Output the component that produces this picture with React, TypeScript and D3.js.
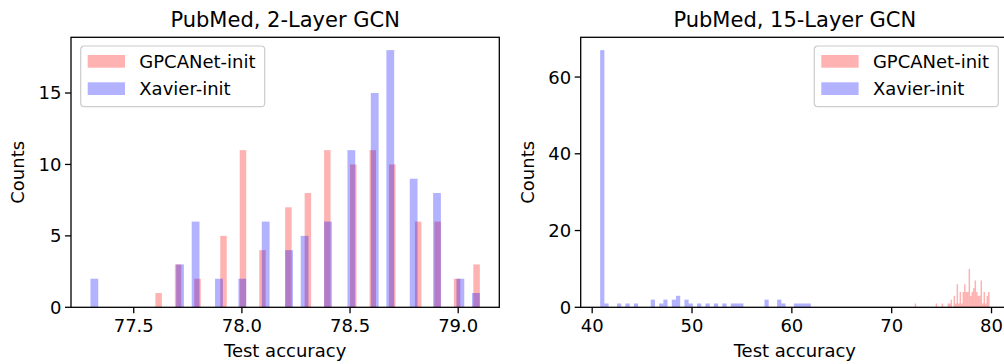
import * as d3 from "d3";

// ── Data (accuracy values and run counts) ─────────────────────────────────────
const leftAcc = [77.3, 77.6, 77.7, 77.8, 77.9, 78.0, 78.1, 78.2, 78.3, 78.4, 78.5, 78.6, 78.7, 78.8, 78.9, 79.0, 79.1];
const leftGpca = [0, 1, 3, 2, 5, 11, 4, 7, 8, 11, 10, 11, 10, 6, 6, 2, 3];
const leftXavier = [2, 0, 3, 6, 2, 2, 6, 4, 5, 6, 11, 15, 18, 9, 8, 2, 1];

const rightGpcaAcc = [72.3, 74.4, 75.0, 75.6, 75.8, 75.9, 76.2, 76.4, 76.5, 76.7, 76.8, 77.0, 77.1, 77.3, 77.4, 77.6, 77.7, 77.9, 78.0, 78.2, 78.3, 78.5, 78.6, 78.8, 78.9, 79.1, 79.2, 79.4, 79.5, 79.8];
const rightGpca = [1, 1, 1, 1, 1, 2, 3, 1, 6, 1, 4, 1, 4, 6, 4, 4, 10, 3, 4, 5, 7, 4, 3, 3, 7, 1, 4, 1, 3, 4];
const rightXavierAcc = [40.8, 41.4, 42.7, 43.5, 44.4, 46.1, 46.9, 47.3, 48.2, 48.6, 49.5, 49.9, 50.7, 51.6, 52.4, 53.3, 54.1, 54.5, 54.9, 57.5, 58.7, 59.2, 60.4, 60.9, 61.3, 61.9];
const rightXavier = [67, 1, 1, 1, 1, 2, 1, 2, 2, 3, 2, 1, 1, 1, 1, 1, 1, 1, 1, 2, 2, 1, 1, 1, 1, 1];

const leftXTicks = [77.5, 78.0, 78.5, 79.0];
const leftYTicks = [0, 5, 10, 15];
const rightXTicks = [40, 50, 60, 70, 80];
const rightYTicks = [0, 20, 40, 60];

const seriesNames = ["GPCANet-init", "Xavier-init"];
const seriesColors = ["red", "blue"];

// ── Layout ────────────────────────────────────────────────────────────────────
const W = 1004;
const H = 364;
const TOP = 37.3;
const BOTTOM = 307.3;
const PANEL_W = 428.3;
const FONT = "DejaVu Sans, sans-serif";
const FS = 18;

type Bin = { x0: number; x1: number; count: number };

// matplotlib-style hist: 50 equal bins from min to max of the series
function histogram(acc: number[], counts: number[], nBins = 50): Bin[] {
  const present = acc.filter((_, i) => counts[i] > 0);
  const lo = d3.min(present) as number;
  const hi = d3.max(present) as number;
  const w = (hi - lo) / nBins;
  const bins: Bin[] = d3.range(nBins).map((i) => ({ x0: lo + i * w, x1: lo + (i + 1) * w, count: 0 }));
  acc.forEach((v, i) => {
    if (counts[i] <= 0) return;
    const idx = Math.max(0, Math.min(nBins - 1, Math.floor((v - lo) / w + 1e-9)));
    bins[idx].count += counts[i];
  });
  return bins.filter((b) => b.count > 0);
}

interface PanelProps {
  left: number;
  title: string;
  series: { acc: number[]; counts: number[] }[];
  xTicks: number[];
  yTicks: number[];
  xFmt: (v: number) => string;
  legendRight: boolean;
}

function Panel({ left, title, series, xTicks, yTicks, xFmt, legendRight }: PanelProps) {
  const hists = series.map((s) => histogram(s.acc, s.counts));
  const allAcc = series.flatMap((s) => s.acc.filter((_, i) => s.counts[i] > 0));
  const lo = d3.min(allAcc) as number;
  const hi = d3.max(allAcc) as number;
  const pad = (hi - lo) * 0.05;
  const maxCount = d3.max(hists.flat(), (b) => b.count) as number;

  const x = d3.scaleLinear().domain([lo - pad, hi + pad]).range([left, left + PANEL_W]);
  const y = d3.scaleLinear().domain([0, maxCount * 1.05]).range([BOTTOM, TOP]);
  const cx = left + PANEL_W / 2;

  const legW = 184;
  const legX = legendRight ? 998.3 - legW : left + 9.7;
  const legY = 46;

  return (
    <g fontFamily={FONT}>
      {/* bars */}
      {hists.map((bins, si) => (
        <g key={si}>
          {bins.map((b, i) => (
            <rect
              key={i}
              x={x(b.x0)}
              width={x(b.x1) - x(b.x0)}
              y={y(b.count)}
              height={y(0) - y(b.count)}
              fill={seriesColors[si]}
              fillOpacity={0.3}
            />
          ))}
        </g>
      ))}

      {/* frame */}
      <rect x={left} y={TOP} width={PANEL_W} height={BOTTOM - TOP} fill="none" stroke="#000" strokeWidth={1.3} />

      {/* x axis */}
      {xTicks.map((t) => (
        <g key={t} transform={`translate(${x(t)},${BOTTOM})`}>
          <line y2={6} stroke="#000" strokeWidth={1.3} />
          <text y={25} textAnchor="middle" fontSize={FS} fill="#000">
            {xFmt(t)}
          </text>
        </g>
      ))}
      <text x={cx} y={357} textAnchor="middle" fontSize={FS} fill="#000">
        Test accuracy
      </text>

      {/* y axis */}
      {yTicks.map((t) => (
        <g key={t} transform={`translate(${left},${y(t)})`}>
          <line x2={-6} stroke="#000" strokeWidth={1.3} />
          <text x={-9.5} dy="0.36em" textAnchor="end" fontSize={FS} fill="#000">
            {t}
          </text>
        </g>
      ))}
      <text
        transform={`translate(${left - 47},${(TOP + BOTTOM) / 2}) rotate(-90)`}
        textAnchor="middle"
        fontSize={FS}
        fill="#000"
      >
        Counts
      </text>

      {/* title */}
      <text x={cx} y={27} textAnchor="middle" fontSize={21} fill="#000">
        {title}
      </text>

      {/* legend */}
      <g transform={`translate(${legX},${legY})`}>
        <rect width={legW} height={60.7} rx={3.5} fill="#fff" fillOpacity={0.8} stroke="#ccc" strokeWidth={1.2} />
        {seriesNames.map((name, i) => (
          <g key={name} transform={`translate(0,${9 + i * 27.3})`}>
            <rect x={7} width={37.3} height={12.7} fill={seriesColors[i]} fillOpacity={0.3} />
            <text x={58.6} y={6.35} dy="0.36em" fontSize={FS} fill="#000">
              {name}
            </text>
          </g>
        ))}
      </g>
    </g>
  );
}

export default function App() {
  return (
    <div style={{ position: "absolute", left: 0, top: 0, width: W, height: H, background: "#fff" }}>
      <svg width={W} height={H} viewBox={`0 0 ${W} ${H}`} style={{ display: "block" }}>
        <rect width={W} height={H} fill="#fff" />
        <Panel
          left={71}
          title="PubMed, 2-Layer GCN"
          series={[
            { acc: leftAcc, counts: leftGpca },
            { acc: leftAcc, counts: leftXavier },
          ]}
          xTicks={leftXTicks}
          yTicks={leftYTicks}
          xFmt={(v) => v.toFixed(1)}
          legendRight={false}
        />
        <Panel
          left={580.7}
          title="PubMed, 15-Layer GCN"
          series={[
            { acc: rightGpcaAcc, counts: rightGpca },
            { acc: rightXavierAcc, counts: rightXavier },
          ]}
          xTicks={rightXTicks}
          yTicks={rightYTicks}
          xFmt={(v) => String(v)}
          legendRight={true}
        />
      </svg>
    </div>
  );
}
